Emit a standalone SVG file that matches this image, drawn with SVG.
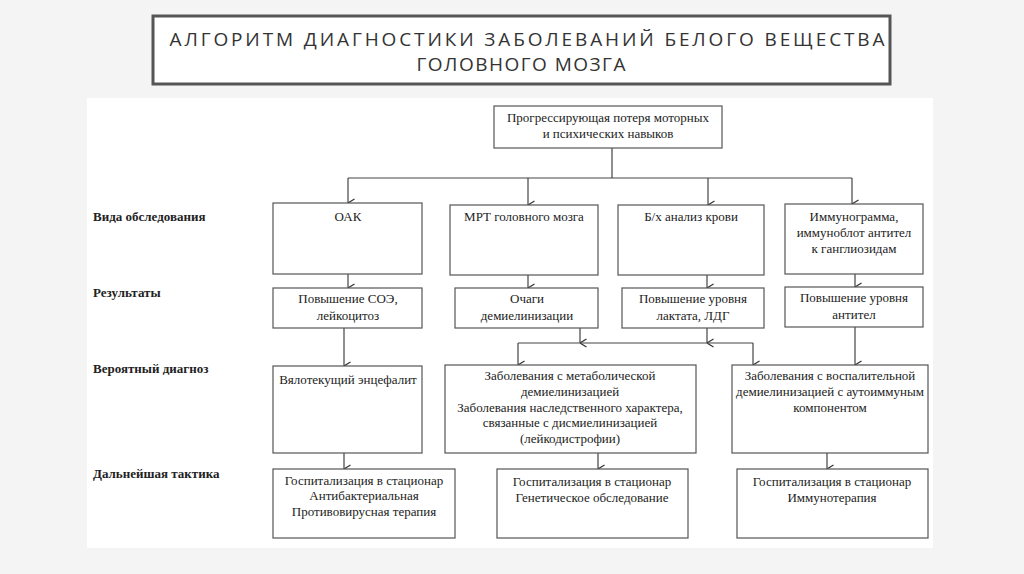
<svg xmlns="http://www.w3.org/2000/svg" width="1024" height="574" viewBox="0 0 1024 574">
<defs>
<marker id="arr" viewBox="0 0 10 10" refX="5" refY="9.5" markerWidth="10" markerHeight="10" markerUnits="userSpaceOnUse" orient="auto-start-reverse">
<path d="M1,3 L5,9.5 L9,3" fill="none" stroke="#333" stroke-width="1.2"/>
</marker>
<style>
.box{fill:#fff;stroke:#555;stroke-width:1.2}
.t{font-family:"Liberation Serif","Times New Roman",serif;font-size:13px;fill:#222;text-anchor:middle}
.lbl{font-family:"Liberation Serif","Times New Roman",serif;font-size:13px;font-weight:bold;fill:#222}
.ttl{font-family:"Open Sans","DejaVu Sans",sans-serif;font-size:19px;fill:#333;text-anchor:middle}
.c{fill:none;stroke:#444;stroke-width:1.2}
.a{fill:none;stroke:#444;stroke-width:1.2;marker-end:url(#arr)}
</style>
</defs>
<rect x="0" y="0" width="1024" height="574" fill="#f4f4f4"/>
<rect x="87" y="98" width="846" height="450" fill="#fff"/>
<g id="title">
<rect x="153" y="16" width="737" height="68" fill="#fff" stroke="#555" stroke-width="3"/>
<text class="ttl" x="527" y="46" textLength="715" lengthAdjust="spacing">АЛГОРИТМ ДИАГНОСТИКИ ЗАБОЛЕВАНИЙ БЕЛОГО ВЕЩЕСТВА</text>
<text class="ttl" x="521" y="71" textLength="209" lengthAdjust="spacing">ГОЛОВНОГО МОЗГА</text>
</g>
<g id="labels">
<text class="lbl" x="93" y="221">Вида обследования</text>
<text class="lbl" x="93" y="297">Результаты</text>
<text class="lbl" x="93" y="373">Вероятный диагноз</text>
<text class="lbl" x="93" y="478">Дальнейшая тактика</text>
</g>
<g id="connectors">
<path class="c" d="M612,148 V178 M348,178 H852"/>
<path class="a" d="M348,178 V203"/>
<path class="a" d="M528,178 V205"/>
<path class="a" d="M708,178 V205"/>
<path class="a" d="M852,178 V204"/>
<path class="a" d="M348,274 V288"/>
<path class="a" d="M528,275 V288"/>
<path class="a" d="M707,275 V288"/>
<path class="a" d="M855,274 V287"/>
<path class="a" d="M344,328 V366"/>
<path class="a" d="M580,328 V343"/>
<path class="a" d="M707,328 V343"/>
<path class="c" d="M518,343 H753"/>
<path class="a" d="M518,343 V365"/>
<path class="a" d="M753,343 V365"/>
<path class="a" d="M855,327 V365"/>
<path class="a" d="M344,453 V469"/>
<path class="a" d="M598,453 V469"/>
<path class="a" d="M827,453 V469"/>
</g>
<g id="n_top">
<rect class="box" x="494" y="106" width="228" height="42"/>
<text class="t" x="608" y="122">Прогрессирующая потеря моторных</text>
<text class="t" x="608" y="138">и психических навыков</text>
</g>
<g id="n_oak">
<rect class="box" x="273" y="203" width="149" height="71"/>
<text class="t" x="348" y="221">ОАК</text>
</g>
<g id="n_mrt">
<rect class="box" x="450" y="205" width="148" height="70"/>
<text class="t" x="524" y="221">МРТ головного мозга</text>
</g>
<g id="n_bh">
<rect class="box" x="618" y="205" width="146" height="70"/>
<text class="t" x="691" y="221">Б/х анализ крови</text>
</g>
<g id="n_immuno">
<rect class="box" x="785" y="204" width="138" height="70"/>
<text class="t" x="854" y="221">Иммунограмма,</text>
<text class="t" x="854" y="237">иммуноблот антител</text>
<text class="t" x="854" y="253">к ганглиозидам</text>
</g>
<g id="r_oak">
<rect class="box" x="273" y="288" width="149" height="40"/>
<text class="t" x="348" y="303">Повышение СОЭ,</text>
<text class="t" x="348" y="320">лейкоцитоз</text>
</g>
<g id="r_mrt">
<rect class="box" x="455" y="288" width="143" height="40"/>
<text class="t" x="527" y="303">Очаги</text>
<text class="t" x="527" y="320">демиелинизации</text>
</g>
<g id="r_bh">
<rect class="box" x="622" y="288" width="142" height="40"/>
<text class="t" x="693" y="303">Повышение уровня</text>
<text class="t" x="693" y="320">лактата, ЛДГ</text>
</g>
<g id="r_immuno">
<rect class="box" x="785" y="287" width="138" height="40"/>
<text class="t" x="854" y="302">Повышение уровня</text>
<text class="t" x="854" y="319">антител</text>
</g>
<g id="d_left">
<rect class="box" x="273" y="366" width="149" height="87"/>
<text class="t" x="348" y="384">Вялотекущий энцефалит</text>
</g>
<g id="d_mid">
<rect class="box" x="445" y="365" width="251" height="88"/>
<text class="t" x="570" y="380">Заболевания с метаболической</text>
<text class="t" x="570" y="396">демиелинизацией</text>
<text class="t" x="570" y="412">Заболевания наследственного характера,</text>
<text class="t" x="570" y="427">связанные с дисмиелинизацией</text>
<text class="t" x="570" y="443">(лейкодистрофии)</text>
</g>
<g id="d_right">
<rect class="box" x="732" y="365" width="196" height="88"/>
<text class="t" x="830" y="380">Заболевания с воспалительной</text>
<text class="t" x="830" y="396">демиелинизацией с аутоиммуным</text>
<text class="t" x="830" y="412">компонентом</text>
</g>
<g id="t_left">
<rect class="box" x="273" y="469" width="182" height="69"/>
<text class="t" x="364" y="485">Госпитализация в стационар</text>
<text class="t" x="364" y="500">Антибактериальная</text>
<text class="t" x="364" y="516">Противовирусная терапия</text>
</g>
<g id="t_mid">
<rect class="box" x="497" y="469" width="191" height="69"/>
<text class="t" x="592" y="486">Госпитализация в стационар</text>
<text class="t" x="592" y="502">Генетическое обследование</text>
</g>
<g id="t_right">
<rect class="box" x="737" y="469" width="191" height="69"/>
<text class="t" x="832" y="486">Госпитализация в стационар</text>
<text class="t" x="832" y="502">Иммунотерапия</text>
</g>
</svg>
